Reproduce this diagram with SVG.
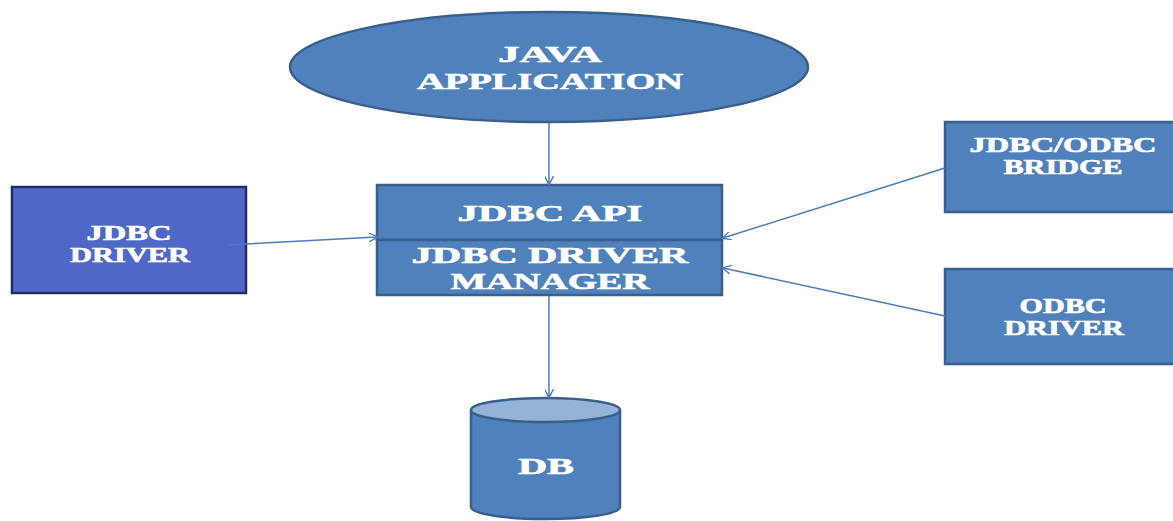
<svg xmlns="http://www.w3.org/2000/svg" width="1173" height="521" viewBox="0 0 1173 521">
<style>
.node{fill:#4F81BD;stroke:#3A5F8C;stroke-width:2.5}
.drv{fill:#4F68C8;stroke:#1F2A66;stroke-width:2.5}
.t{font-family:"Liberation Serif","Times New Roman",serif;font-weight:bold;fill:#fff;stroke:#fff;stroke-width:0.6;text-anchor:middle}
.conn{stroke:#4A7EBB;stroke-width:1.5;fill:none;marker-end:url(#arr)}
</style>
<defs>
<marker id="arr" viewBox="0 0 10 10" refX="9" refY="5" markerWidth="9" markerHeight="9" markerUnits="userSpaceOnUse" orient="auto">
<path d="M0,0 L10,5 L0,10" fill="none" stroke="#4A7EBB" stroke-width="1.5"/>
</marker>
</defs>
<rect width="1173" height="521" fill="#fff"/>
<g id="java-app">
<ellipse class="node" cx="549" cy="67" rx="259" ry="55"/>
<text class="t" x="550" y="62" font-size="24" textLength="104" lengthAdjust="spacingAndGlyphs">JAVA</text>
<text class="t" x="550" y="89" font-size="24" textLength="266" lengthAdjust="spacingAndGlyphs">APPLICATION</text>
</g>
<g id="jdbc-api">
<rect class="node" x="377" y="185" width="345" height="55"/>
<text class="t" x="550" y="221" font-size="24" textLength="185" lengthAdjust="spacingAndGlyphs">JDBC API</text>
</g>
<g id="jdbc-driver-manager">
<rect class="node" x="377" y="240" width="345" height="55"/>
<text class="t" x="550" y="263" font-size="24" textLength="277" lengthAdjust="spacingAndGlyphs">JDBC DRIVER</text>
<text class="t" x="550" y="289" font-size="24" textLength="199" lengthAdjust="spacingAndGlyphs">MANAGER</text>
</g>
<g id="jdbc-driver">
<rect class="drv" x="12" y="187" width="234" height="106"/>
<text class="t" x="129" y="240" font-size="21" textLength="85" lengthAdjust="spacingAndGlyphs">JDBC</text>
<text class="t" x="130" y="262" font-size="21" textLength="120" lengthAdjust="spacingAndGlyphs">DRIVER</text>
</g>
<g id="jdbc-odbc-bridge">
<rect class="node" x="945" y="122" width="230" height="90"/>
<text class="t" x="1063" y="152" font-size="20" textLength="187" lengthAdjust="spacingAndGlyphs">JDBC/ODBC</text>
<text class="t" x="1063" y="174" font-size="20" textLength="119" lengthAdjust="spacingAndGlyphs">BRIDGE</text>
</g>
<g id="odbc-driver">
<rect class="node" x="945" y="269" width="230" height="95"/>
<text class="t" x="1063" y="313" font-size="20" textLength="87" lengthAdjust="spacingAndGlyphs">ODBC</text>
<text class="t" x="1064" y="335" font-size="20" textLength="120" lengthAdjust="spacingAndGlyphs">DRIVER</text>
</g>
<g id="db">
<path class="node" d="M471,410 L471,507 A74.5,12 0 0 0 620,507 L620,410"/>
<ellipse cx="545.5" cy="410" rx="74.5" ry="12" fill="#95B3D7" stroke="#3A5F8C" stroke-width="2.5"/>
<text class="t" x="546" y="474" font-size="24" textLength="56" lengthAdjust="spacingAndGlyphs">DB</text>
</g>
<g id="connectors">
<line class="conn" x1="549" y1="123" x2="549" y2="184"/>
<line class="conn" x1="228" y1="245" x2="377" y2="237"/>
<line class="conn" x1="945" y1="168" x2="723" y2="238"/>
<line class="conn" x1="945" y1="316" x2="723" y2="268"/>
<line class="conn" x1="549" y1="296" x2="549" y2="397"/>
</g>
</svg>
